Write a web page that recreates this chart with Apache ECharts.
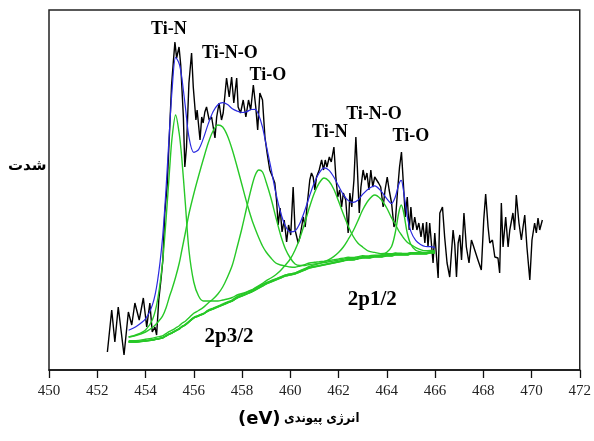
<!DOCTYPE html>
<html>
<head>
<meta charset="utf-8">
<script src="https://cdn.jsdelivr.net/npm/echarts@6/dist/echarts.min.js"></script>
<style>
html,body{margin:0;padding:0;background:#fff;}
#chart{width:594px;height:441px;}
</style>
</head>
<body>
<div id="chart"></div>
<script>
// ---- measured spectrum (binding energy eV, intensity a.u.) ----
const rawEnergy = [452.42,452.60,452.73,452.87,453.11,453.29,453.43,453.56,453.74,453.91,454.05,454.18,454.28,454.39,454.46,454.55,454.64,454.72,454.80,454.90,455.00,455.08,455.15,455.22,455.29,455.39,455.46,455.57,455.63,455.70,455.80,455.91,455.98,456.09,456.14,456.26,456.33,456.39,456.46,456.53,456.64,456.74,456.88,456.95,457.05,457.15,457.22,457.36,457.47,457.57,457.66,457.78,457.84,457.94,458.05,458.16,458.27,458.36,458.47,458.57,458.65,458.74,458.85,458.95,459.04,459.15,459.27,459.36,459.43,459.50,459.58,459.66,459.75,459.85,459.93,460.02,460.12,460.20,460.33,460.40,460.54,460.62,460.70,460.81,460.88,460.95,461.02,461.09,461.20,461.30,461.38,461.45,461.52,461.62,461.70,461.81,461.89,461.97,462.05,462.13,462.20,462.30,462.40,462.47,462.55,462.64,462.72,462.78,462.86,462.93,463.02,463.10,463.18,463.26,463.34,463.42,463.50,463.58,463.66,463.75,463.85,463.93,464.02,464.10,464.20,464.30,464.36,464.45,464.53,464.61,464.68,464.77,464.85,464.93,465.00,465.08,465.16,465.25,465.33,465.42,465.50,465.58,465.65,465.71,465.78,465.92,465.99,466.13,466.20,466.31,466.40,466.50,466.61,466.75,466.82,466.89,466.96,467.03,467.10,467.20,467.30,467.41,467.51,467.58,467.65,467.78,467.92,468.02,468.10,468.20,468.27,468.38,468.48,468.61,468.68,468.75,468.82,468.93,469.03,469.10,469.23,469.30,469.37,469.48,469.58,469.65,469.72,469.81,469.93,470.02,470.13,470.20,470.27,470.34,470.45];
const rawIntensity = [18,60,28,63,15,58,45,67,50,72,43,67,38,43,35,70,90,110,157,185,240,285,307,328,312,323,305,253,203,223,287,317,283,250,260,230,253,247,258,263,250,253,232,253,267,250,257,292,273,293,267,292,263,257,270,253,270,260,285,263,240,277,270,233,217,200,193,187,170,145,162,138,150,128,145,135,183,140,127,133,153,143,165,190,197,193,180,193,200,210,200,210,203,213,208,223,193,173,180,163,177,170,137,177,163,190,233,203,157,183,200,190,197,180,200,183,193,190,187,183,163,180,193,180,167,143,150,180,203,218,190,153,173,140,163,140,153,140,147,133,147,127,148,123,147,107,137,92,157,163,133,107,93,140,125,93,127,135,110,157,123,107,130,125,123,110,100,150,176,143,127,130,113,112,97,167,123,153,123,140,157,140,175,147,130,143,155,123,90,130,147,137,152,140,150];

// ---- fitted components (energy grid, background, peak heights above background) ----
const fitEnergy = [453.3,453.6,454.0,454.3,454.5,454.7,454.85,455.0,455.1,455.25,455.4,455.5,455.65,455.8,456.0,456.2,456.4,456.6,456.8,457.0,457.2,457.4,457.6,457.8,458.0,458.2,458.4,458.55,458.7,458.85,459.0,459.2,459.4,459.6,459.8,460.0,460.2,460.4,460.6,460.8,461.0,461.2,461.4,461.6,461.8,462.0,462.2,462.4,462.6,462.8,463.0,463.25,463.5,463.75,464.0,464.2,464.35,464.5,464.6,464.7,464.85,465.0,465.2,465.4,465.6,465.8,466.0];
const background = [28,28,29,30,31,32,34,36,37,39,41,43,45,48,52,54,56,59,61,63,65,67,69,72,74,76,78,80,82,84,86,88,90,92,94,95,96,98,100,102,103,104,105,106,107,108,109,110,110,111,112,112,113,113,114,114,115,115,115,115,115,116,116,116,116,117,117];
const peakTiN_3_2 = [5,7,11,21,39,74,116,165,195,216,195,170,122,72,36,20,13,10,8,6,5,4,3.5,3,2.5,2.2,2,1.8,1.6,1.5,1.4,1.3,1.2,1.1,1,1,0.9,0.8,0.8,0.7,0.7,0.6,0.6,0.6,0.5,0.5,0.5,0.4,0.4,0.4,0.4,0.3,0.3,0.3,0.3,0.3,0.3,0.2,0.2,0.2,0.2,0.2,0.2,0.2,0.2,0.2,0.2];
const peakTiNO_3_2 = [5,6.5,9,12.7,16.5,21.6,28,38,44,54,66,76,92,108,124,140,155,168,178,182,178,167,151,131,111,91,73,61,50,40,32,24,17,13,10,8,6.8,6,5.4,5,4.7,4.2,3.8,3.5,3.2,3,2.9,2.7,2.5,2.35,2.2,2,1.9,1.75,1.6,1.5,1.45,1.4,1.35,1.3,1.25,1.2,1.1,1.05,1,0.95,0.9];
const peakTiO_3_2 = [1.3,1.4,1.7,1.9,2.1,2.2,2.4,2.6,2.8,3.0,3.3,3.5,3.8,4.2,4.8,5.5,6.6,8,10,13,18,26,36,51,68,87,105,115,118,114,102,84,63,43,27,17,10,6.5,4.5,3.5,3,2.6,2.4,2.2,2.0,1.9,1.8,1.7,1.6,1.5,1.4,1.3,1.2,1.1,1.05,1.0,0.95,0.9,0.9,0.85,0.85,0.8,0.8,0.75,0.7,0.7,0.65];
const peakTiN_1_2 = [0.3,0.3,0.35,0.37,0.4,0.42,0.44,0.45,0.47,0.49,0.51,0.53,0.56,0.59,0.63,0.68,0.73,0.79,0.86,0.94,1.0,1.1,1.24,1.38,1.53,1.72,1.95,2.2,2.4,2.7,3.2,4.0,5.3,7.5,11,16,24,34,47,61,74,83,87,83,74,61,47,34,24,16,11,6.8,4.6,3.3,2.6,2.2,2.0,1.8,1.72,1.62,1.5,1.38,1.24,1.1,1.0,0.94,0.86];
const peakTiNO_1_2 = [0.13,0.13,0.15,0.16,0.16,0.17,0.18,0.19,0.19,0.2,0.21,0.21,0.22,0.23,0.24,0.25,0.26,0.28,0.3,0.31,0.33,0.35,0.38,0.41,0.44,0.47,0.5,0.53,0.56,0.6,0.64,0.7,0.77,0.84,0.93,1.04,1.17,1.3,1.48,1.7,2.05,2.5,3.2,4.4,6.4,9.5,14,20.5,28.7,38,48,58,62,58,48,38,31,24,20.5,17,12.8,9.5,6.4,4.4,3.2,2.5,2.05];
const peakTiO_1_2 = [0.01,0.01,0.01,0.01,0.01,0.02,0.02,0.02,0.02,0.02,0.02,0.02,0.02,0.02,0.02,0.02,0.02,0.02,0.02,0.03,0.03,0.03,0.03,0.03,0.03,0.04,0.04,0.04,0.04,0.04,0.05,0.05,0.05,0.06,0.06,0.07,0.07,0.08,0.09,0.1,0.11,0.12,0.14,0.16,0.18,0.21,0.25,0.29,0.35,0.44,0.55,0.76,1.13,1.85,3.8,9.5,22,42.5,50,42.5,22,9.5,3.8,2.1,1.4,1.0,0.7];

// ---- axis ----
const xTickValues = [450,452,454,456,458,460,462,464,466,468,470,472];

// ---- annotations (text, energy, intensity) ----
const annText = ['Ti-N','Ti-N-O','Ti-O','Ti-N','Ti-N-O','Ti-O','2p3/2','2p1/2'];
const annEnergy = [454.97,457.50,459.07,461.64,463.47,465.0,457.46,463.40];
const annIntensity = [341,317,295,238,256,234,33,70];

const peaks = [peakTiN_3_2, peakTiNO_3_2, peakTiO_3_2, peakTiN_1_2, peakTiNO_1_2, peakTiO_1_2];

const GREEN = '#27c827';
const BLUE = '#2a2ae0';

const series = [];
series.push({
  type:'line', name:'raw', data: rawEnergy.map((e,i)=>[e, rawIntensity[i]]),
  symbol:'none', lineStyle:{color:'#000', width:1.4}, z:2
});
series.push({
  type:'line', name:'bg', data: fitEnergy.map((e,i)=>[e, background[i]]),
  symbol:'none', smooth:0.3, lineStyle:{color:GREEN, width:1.5}, z:3
});
peaks.forEach((p,k)=>{
  series.push({
    type:'line', name:'p'+k, data: fitEnergy.map((e,i)=>[e, background[i]+p[i]]),
    symbol:'none', smooth:0.3, lineStyle:{color:GREEN, width:1.4}, z:3
  });
});
series.push({
  type:'line', name:'envelope',
  data: fitEnergy.map((e,i)=>[e, background[i] + peaks.reduce((s,p)=>s+p[i],0)]),
  symbol:'none', smooth:0.3, lineStyle:{color:BLUE, width:1.2}, z:4
});
series.push({
  type:'scatter', name:'ann', symbolSize:0, itemStyle:{color:'#000', opacity:1}, z:6,
  data: annText.map((t,i)=>({
    name:t, value:[annEnergy[i], annIntensity[i]],
    label: t.startsWith('2p') ? {fontSize:21} : {}
  })),
  label:{show:true, position:'inside', formatter:'{b}', color:'#000', opacity:1,
         fontFamily:'Liberation Serif', fontWeight:'bold', fontSize:18}
});

const chart = echarts.init(document.getElementById('chart'), null, {renderer:'canvas'});
chart.setOption({
  animation:false,
  backgroundColor:'#fff',
  grid:{left:49, right:14, top:10, bottom:71, show:true, borderColor:'#222', borderWidth:1.5},
  xAxis:{
    type:'value', min:xTickValues[0], max:xTickValues[xTickValues.length-1], interval:2,
    axisLine:{show:true, lineStyle:{color:'#111', width:1.5}},
    axisTick:{show:true, length:8, lineStyle:{color:'#111', width:1.3}},
    axisLabel:{color:'#222', fontFamily:'Liberation Serif', fontSize:15, margin:14},
    splitLine:{show:false}
  },
  yAxis:{type:'value', min:0, max:360, show:false},
  graphic:[{
    type:'text', left:8, top:159,
    style:{text:'شدت', fill:'#000', font:'bold 15px "DejaVu Sans"'}
  },{
    type:'text', left:238, top:410,
    style:{
      text:'{a|(eV)} {b|انرژی پیوندی}',
      rich:{
        a:{fontFamily:'DejaVu Sans', fontWeight:'bold', fontSize:18, fill:'#000'},
        b:{fontFamily:'DejaVu Sans Condensed', fontWeight:'bold', fontSize:13, fill:'#000'}
      }
    }
  }],
  series: series
});
</script>
</body>
</html>
